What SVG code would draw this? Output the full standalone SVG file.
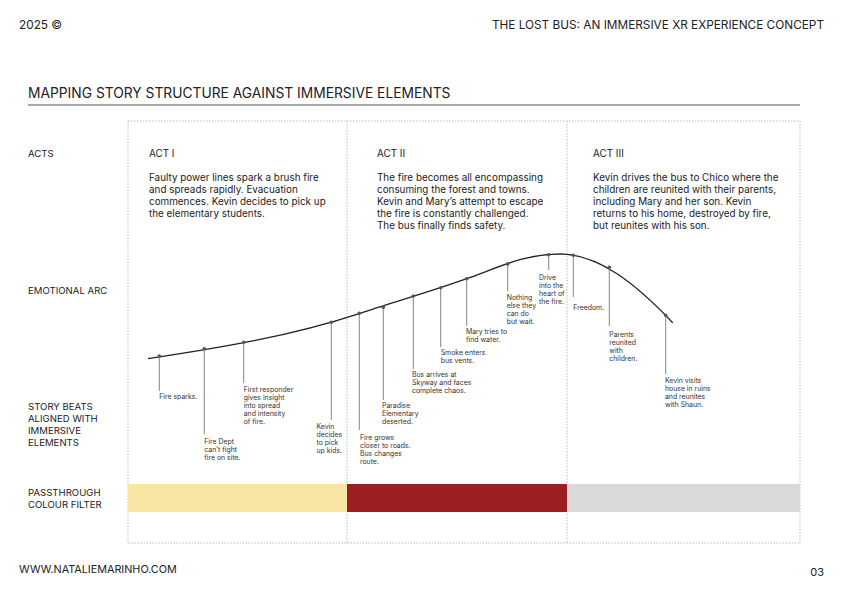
<svg xmlns="http://www.w3.org/2000/svg" width="842" height="595" viewBox="0 0 842 595">
<style>
text{font-family:Inter,"Liberation Sans",sans-serif;fill:#222}
.hd{font-size:11.8px}
.ttl{font-size:13.8px}
.side{font-size:9.6px}
.act{font-size:9.9px}
.beat{font-size:6.9px;fill:#333}
.dot{stroke:#aaa;stroke-width:0.8;stroke-dasharray:1.5 1.5;fill:none}
.stem{stroke:#777;stroke-width:0.9}
.pt{fill:#555}
</style>
<rect width="842" height="595" fill="#fff"/>
<g id="header">
<text class="hd" x="19" y="29.3">2025 ©</text>
<text class="hd" x="824" y="29.3" text-anchor="end">THE LOST BUS: AN IMMERSIVE XR EXPERIENCE CONCEPT</text>
<text class="ttl" x="28" y="98">MAPPING STORY STRUCTURE AGAINST IMMERSIVE ELEMENTS</text>
<line x1="28" y1="105" x2="800" y2="105" stroke="#555" stroke-width="1.2"/>
</g>
<g id="frame">
<rect class="dot" x="128" y="121" width="672" height="422"/>
<line class="dot" x1="347" y1="121" x2="347" y2="543"/>
<line class="dot" x1="567" y1="121" x2="567" y2="543"/>
</g>
<g id="side-labels">
<text class="side" x="28" y="156.7">ACTS</text>
<text class="side" x="28" y="294.1">EMOTIONAL ARC</text>
<text class="side" x="28" y="410.1">STORY BEATS<tspan x="28" dy="12.1">ALIGNED WITH</tspan><tspan x="28" dy="12.1">IMMERSIVE</tspan><tspan x="28" dy="12.1">ELEMENTS</tspan></text>
<text class="side" x="28" y="495.7">PASSTHROUGH<tspan x="28" dy="12.6">COLOUR FILTER</tspan></text>
</g>
<g id="act1">
<text class="act" x="149" y="156.8">ACT I</text>
<text class="act" x="149" y="180.8">Faulty power lines spark a brush fire<tspan x="149" dy="12">and spreads rapidly. Evacuation</tspan><tspan x="149" dy="12">commences. Kevin decides to pick up</tspan><tspan x="149" dy="12">the elementary students.</tspan></text>
</g>
<g id="act2">
<text class="act" x="377" y="156.8">ACT II</text>
<text class="act" x="377" y="180.8">The fire becomes all encompassing<tspan x="377" dy="12">consuming the forest and towns.</tspan><tspan x="377" dy="12">Kevin and Mary’s attempt to escape</tspan><tspan x="377" dy="12">the fire is constantly challenged.</tspan><tspan x="377" dy="12">The bus finally finds safety.</tspan></text>
</g>
<g id="act3">
<text class="act" x="593" y="156.8">ACT III</text>
<text class="act" x="593" y="180.8">Kevin drives the bus to Chico where the<tspan x="593" dy="12">children are reunited with their parents,</tspan><tspan x="593" dy="12">including Mary and her son. Kevin</tspan><tspan x="593" dy="12">returns to his home, destroyed by fire,</tspan><tspan x="593" dy="12">but reunites with his son.</tspan></text>
</g>
<g id="connectors">
<path d="M148,358.7 C218,348.2 290,336.4 360,313.3 C395,301.7 431.7,291.3 466.7,278.7 C501.7,266.1 525,254 560,254 C600,254 637.7,285.9 672.7,322.7" fill="none" stroke="#222" stroke-width="1.3"/>
<line class="stem" x1="159.3" y1="356" x2="159.3" y2="391"/>
<line class="stem" x1="204.3" y1="348.7" x2="204.3" y2="434"/>
<line class="stem" x1="243.7" y1="342.3" x2="243.7" y2="383"/>
<line class="stem" x1="331.3" y1="322.3" x2="331.3" y2="420"/>
<line class="stem" x1="359.3" y1="313.3" x2="359.3" y2="430"/>
<line class="stem" x1="383.3" y1="307.3" x2="383.3" y2="400"/>
<line class="stem" x1="413.3" y1="296" x2="413.3" y2="369"/>
<line class="stem" x1="440.7" y1="287.7" x2="440.7" y2="347"/>
<line class="stem" x1="466.7" y1="278.7" x2="466.7" y2="326"/>
<line class="stem" x1="507.7" y1="264" x2="507.7" y2="291"/>
<line class="stem" x1="548.7" y1="254.7" x2="548.7" y2="270"/>
<line class="stem" x1="573.3" y1="255.3" x2="573.3" y2="297"/>
<line class="stem" x1="609.3" y1="267.3" x2="609.3" y2="326"/>
<line class="stem" x1="665.7" y1="315.3" x2="665.7" y2="374"/>
<circle class="pt" cx="159.3" cy="356" r="1.8"/>
<circle class="pt" cx="204.3" cy="348.7" r="1.8"/>
<circle class="pt" cx="243.7" cy="342.3" r="1.8"/>
<circle class="pt" cx="331.3" cy="322.3" r="1.8"/>
<circle class="pt" cx="359.3" cy="313.3" r="1.8"/>
<circle class="pt" cx="383.3" cy="307.3" r="1.8"/>
<circle class="pt" cx="413.3" cy="296" r="1.8"/>
<circle class="pt" cx="440.7" cy="287.7" r="1.8"/>
<circle class="pt" cx="466.7" cy="278.7" r="1.8"/>
<circle class="pt" cx="507.7" cy="264" r="1.8"/>
<circle class="pt" cx="548.7" cy="254.7" r="1.8"/>
<circle class="pt" cx="573.3" cy="255.3" r="1.8"/>
<circle class="pt" cx="609.3" cy="267.3" r="1.8"/>
<circle class="pt" cx="665.7" cy="315.3" r="1.8"/>
</g>
<g id="beats">
<text class="beat" x="159.3" y="399">Fire sparks.</text>
<text class="beat" x="204.3" y="444">Fire Dept<tspan x="204.3" dy="8">can’t fight</tspan><tspan x="204.3" dy="8">fire on site.</tspan></text>
<text class="beat" x="243.7" y="391.7">First responder<tspan x="243.7" dy="8">gives insight</tspan><tspan x="243.7" dy="8">into spread</tspan><tspan x="243.7" dy="8">and intensity</tspan><tspan x="243.7" dy="8">of fire.</tspan></text>
<text class="beat" x="316.5" y="428.5">Kevin<tspan x="316.5" dy="8">decides</tspan><tspan x="316.5" dy="8">to pick</tspan><tspan x="316.5" dy="8">up kids.</tspan></text>
<text class="beat" x="360" y="440">Fire grows<tspan x="360" dy="8">closer to roads.</tspan><tspan x="360" dy="8">Bus changes</tspan><tspan x="360" dy="8">route.</tspan></text>
<text class="beat" x="382" y="408">Paradise<tspan x="382" dy="8">Elementary</tspan><tspan x="382" dy="8">deserted.</tspan></text>
<text class="beat" x="412" y="376.8">Bus arrives at<tspan x="412" dy="8">Skyway and faces</tspan><tspan x="412" dy="8">complete chaos.</tspan></text>
<text class="beat" x="440.7" y="355">Smoke enters<tspan x="440.7" dy="8">bus vents.</tspan></text>
<text class="beat" x="466" y="333.5">Mary tries to<tspan x="466" dy="8">find water.</tspan></text>
<text class="beat" x="506.7" y="300">Nothing<tspan x="506.7" dy="8">else they</tspan><tspan x="506.7" dy="8">can do</tspan><tspan x="506.7" dy="8">but wait.</tspan></text>
<text class="beat" x="539" y="279.5">Drive<tspan x="539" dy="8">into the</tspan><tspan x="539" dy="8">heart of</tspan><tspan x="539" dy="8">the fire.</tspan></text>
<text class="beat" x="573.3" y="309.7">Freedom.</text>
<text class="beat" x="609.3" y="336.8">Parents<tspan x="609.3" dy="8">reunited</tspan><tspan x="609.3" dy="8">with</tspan><tspan x="609.3" dy="8">children.</tspan></text>
<text class="beat" x="665" y="382.5">Kevin visits<tspan x="665" dy="8">house in ruins</tspan><tspan x="665" dy="8">and reunites</tspan><tspan x="665" dy="8">with Shaun.</tspan></text>
</g>
<g id="filters">
<rect x="128" y="484" width="219" height="28" fill="#F9E6A5"/>
<rect x="347" y="484" width="220" height="28" fill="#9B1F22"/>
<rect x="567" y="484" width="233" height="28" fill="#D9D9D9"/>
</g>
<g id="footer">
<text x="19" y="573" style="font-size:10.8px">WWW.NATALIEMARINHO.COM</text>
<text x="824" y="576" text-anchor="end" style="font-size:11px">03</text>
</g>
</svg>
